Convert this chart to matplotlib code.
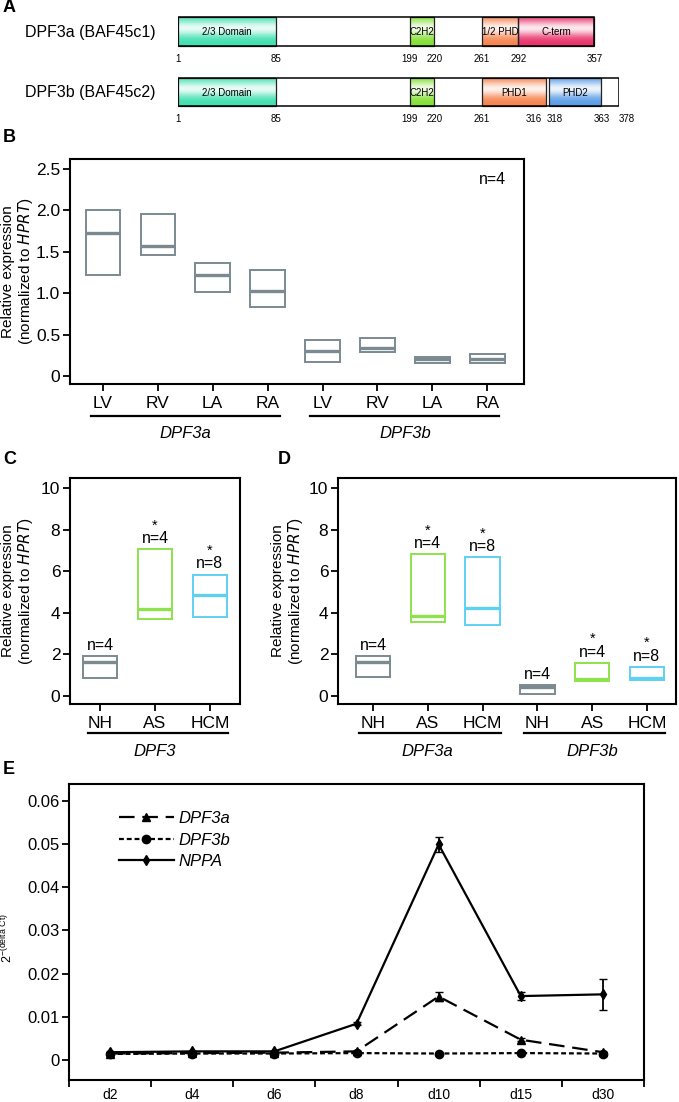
import numpy as np
import matplotlib
matplotlib.use("Agg")
import matplotlib.pyplot as plt
from matplotlib.patches import Rectangle
from matplotlib.colors import to_rgb
from matplotlib.transforms import blended_transform_factory

plt.rcParams['font.family'] = ['Liberation Sans', 'DejaVu Sans']

# ---------------- data ----------------
# A: domain maps (amino acid positions)
DPF3A_NAME = "DPF3a (BAF45c1)"
DPF3A_LEN = 357
DPF3A_DOM = [("2/3 Domain", 1, 85, "#3fe0b0"), ("C2H2", 199, 220, "#84e034"),
             ("1/2 PHD", 261, 292, "#f5844f"), ("C-term", 292, 357, "#e8326a")]
DPF3A_NUM = [1, 85, 199, 220, 261, 292, 357]
DPF3B_NAME = "DPF3b (BAF45c2)"
DPF3B_LEN = 378
DPF3B_DOM = [("2/3 Domain", 1, 85, "#3fe0b0"), ("C2H2", 199, 220, "#84e034"),
             ("PHD1", 261, 316, "#f5844f"), ("PHD2", 318, 363, "#5a9de6")]
DPF3B_NUM = [1, 85, 199, 220, 261, 316, 318, 363, 378]

# B: tissue expression (min, median, max)
B_LABELS = ["LV", "RV", "LA", "RA", "LV", "RV", "LA", "RA"]
B_LO  = [1.22, 1.46, 1.01, 0.83, 0.17, 0.29, 0.16, 0.16]
B_MED = [1.73, 1.57, 1.22, 1.02, 0.30, 0.34, 0.20, 0.21]
B_HI  = [2.00, 1.96, 1.37, 1.28, 0.43, 0.46, 0.23, 0.27]
B_GROUPS = [("DPF3a", 1, 4), ("DPF3b", 5, 8)]

# C: DPF3 in NH / AS / HCM
C_LABELS = ["NH", "AS", "HCM"]
C_LO  = [0.86, 3.71, 3.79]
C_MED = [1.62, 4.17, 4.87]
C_HI  = [1.94, 7.06, 5.84]
C_N = ["n=4", "n=4", "n=8"]
C_STAR = [False, True, True]
C_GROUPS = [("DPF3", 1, 3)]

# D: DPF3a / DPF3b in NH / AS / HCM
D_LABELS = ["NH", "AS", "HCM", "NH", "AS", "HCM"]
D_LO  = [0.90, 3.58, 3.41, 0.10, 0.72, 0.77]
D_MED = [1.62, 3.85, 4.22, 0.42, 0.82, 0.86]
D_HI  = [1.91, 6.82, 6.67, 0.52, 1.59, 1.40]
D_N = ["n=4", "n=4", "n=8", "n=4", "n=4", "n=8"]
D_STAR = [False, True, True, False, True, True]
D_GROUPS = [("DPF3a", 1, 3), ("DPF3b", 4, 6)]

# E: time course
E_DAYS = ["d2", "d4", "d6", "d8", "d10", "d15", "d30"]
E_DPF3A = [0.0015, 0.0016, 0.0017, 0.0020, 0.0147, 0.0047, 0.0018]
E_DPF3A_ERR = [0, 0, 0, 0, 0.0011, 0.0003, 0]
E_DPF3B = [0.0014, 0.0015, 0.0015, 0.0016, 0.0015, 0.0016, 0.0015]
E_NPPA = [0.0018, 0.0020, 0.0020, 0.0084, 0.0499, 0.0148, 0.0152]
E_NPPA_ERR = [0, 0, 0, 0.0004, 0.0017, 0.0009, 0.0036]

GREY, GREEN, CYAN = "#7a8a90", "#8ee24c", "#5ed0f2"
C_COLORS = [GREY, GREEN, CYAN]
D_COLORS = [GREY, GREEN, CYAN, GREY, GREEN, CYAN]

W, H = 679, 1102
fig = plt.figure(figsize=(W / 100, H / 100), dpi=100)


def px_axes(l, t, r, b):
    return fig.add_axes([l / W, 1 - b / H, (r - l) / W, (b - t) / H])


def gradient(col):
    c = np.array(to_rgb(col))
    t = np.linspace(0, 1, 60)
    w = 0.88 * np.exp(-((t - 0.38) / 0.28) ** 2)
    return (c[None, :] + (1 - c[None, :]) * w[:, None])[:, None, :]


# label placement tweaks for crowded numbers (x offset in aa, alignment)
NUM_POS = {316: (-4, "right"), 318: (-2, "left"), 378: (7, "center")}


def protein(ax, y0, y1, length, doms, nums, ny):
    ax.add_patch(Rectangle((1, y0), length - 1, y1 - y0, fc="white", ec="none", zorder=1))
    for name, s, e, col in doms:
        ax.imshow(gradient(col), extent=(s, e, y1, y0), aspect="auto", zorder=2,
                  interpolation="bilinear")
        ax.add_patch(Rectangle((s, y0), e - s, y1 - y0, fc="none", ec="#222222", lw=0.9, zorder=3))
        ax.text((s + e) / 2, (y0 + y1) / 2 + 0.5, name, ha="center", va="center",
                fontsize=7, zorder=4)
    ax.add_patch(Rectangle((1, y0), length - 1, y1 - y0, fc="none", ec="black", lw=1.1, zorder=5))
    for n in nums:
        dx, ha = NUM_POS.get(n, (0, "center"))
        ax.text(n + dx, ny, str(n), ha=ha, va="center", fontsize=7)


# ---------------- A ----------------
axA = px_axes(178, 0, 619, 130)
protein(axA, 17, 46, DPF3A_LEN, DPF3A_DOM, DPF3A_NUM, 59)
protein(axA, 78, 106, DPF3B_LEN, DPF3B_DOM, DPF3B_NUM, 119)
axA.set_xlim(1, 378); axA.set_ylim(130, 0); axA.axis("off")
fig.text(25 / W, 1 - 32 / H, DPF3A_NAME, fontsize=11.5, va="center")
fig.text(25 / W, 1 - 92 / H, DPF3B_NAME, fontsize=11.5, va="center")

YLAB = "Relative expression\n(normalized to $\\mathit{HPRT}$)"


def style(ax):
    for s in ax.spines.values():
        s.set_linewidth(1.5)
    ax.tick_params(direction="out", length=5, width=1.3, labelsize=12.5, top=False, right=False)
    ax.tick_params(axis="y", pad=2)


def boxes(ax, x, lo, med, hi, colors, width=0.63):
    lo, med, hi = map(np.asarray, (lo, med, hi))
    ax.bar(x, hi - lo, bottom=lo, width=width, fill=False, edgecolor=colors, linewidth=1.4)
    ax.hlines(med, x - width / 2, x + width / 2, colors=colors, linewidth=2.4)


def groups(ax, grps, yline, ytext, l=0.22, r=0.22):
    tr = blended_transform_factory(ax.transData, ax.transAxes)
    for name, a, b in grps:
        ax.plot([a - l, b + r], [yline, yline], color="black", lw=1.6, transform=tr, clip_on=False)
        ax.text((a + b) / 2, ytext, name, style="italic", fontsize=12, ha="center", va="center",
                transform=tr)


def nlabels(ax, x, hi, ns, stars):
    for xi, h, n, st in zip(x, hi, ns, stars):
        ax.text(xi, h + 0.15, n, ha="center", va="bottom", fontsize=11.5)
        if st:
            ax.text(xi, h + 0.95, "*", ha="center", va="baseline", fontsize=10.5)


def ylab(ax, xpix, left, width):
    # xpix = right edge (second line) of the rotated label, in figure pixels
    ax.set_ylabel(YLAB, fontsize=11, linespacing=1.1)
    ax.yaxis.set_label_coords((xpix - left) / width, 0.5)


# ---------------- B ----------------
axB = px_axes(70, 159, 524, 384)
xb = np.arange(1, len(B_LABELS) + 1)
boxes(axB, xb, B_LO, B_MED, B_HI, GREY)
axB.set_xlim(0.4, 8.67); axB.set_ylim(-0.097, 2.62)
axB.set_xticks(xb); axB.set_xticklabels(B_LABELS)
axB.set_yticks([0, 0.5, 1.0, 1.5, 2.0, 2.5]); axB.set_yticklabels(["0", "0.5", "1.0", "1.5", "2.0", "2.5"])
ylab(axB, 35, 70, 454)
axB.text(8.1, 2.37, "n=4", ha="center", va="center", fontsize=11.5)
style(axB)
groups(axB, B_GROUPS, -0.142, -0.222)

# ---------------- C ----------------
axC = px_axes(70, 478, 240, 704)
xc = np.arange(1, len(C_LABELS) + 1)
boxes(axC, xc, C_LO, C_MED, C_HI, C_COLORS)
nlabels(axC, xc, C_HI, C_N, C_STAR)
axC.set_xlim(0.45, 3.55); axC.set_ylim(-0.38, 10.48)
axC.set_xticks(xc); axC.set_xticklabels(C_LABELS)
axC.set_yticks([0, 2, 4, 6, 8, 10])
ylab(axC, 35, 70, 170)
style(axC)
groups(axC, C_GROUPS, -0.128, -0.212, 0.23, 0.33)

# ---------------- D ----------------
axD = px_axes(338, 478, 676, 704)
xd = np.arange(1, len(D_LABELS) + 1)
boxes(axD, xd, D_LO, D_MED, D_HI, D_COLORS)
nlabels(axD, xd, D_HI, D_N, D_STAR)
axD.set_xlim(0.36, 6.53); axD.set_ylim(-0.38, 10.48)
axD.set_xticks(xd); axD.set_xticklabels(D_LABELS)
axD.set_yticks([0, 2, 4, 6, 8, 10])
ylab(axD, 305, 338, 338)
style(axD)
groups(axD, D_GROUPS, -0.128, -0.212, 0.25, 0.33)

# ---------------- E ----------------
axE = px_axes(69, 784, 644, 1080)
xe = np.arange(len(E_DAYS)) + 0.5
axE.plot(xe, E_DPF3A, color="black", lw=1.6, ls=(0, (7, 3.5)), marker="^", ms=6, label="DPF3a")
axE.plot(xe, E_DPF3B, color="black", lw=1.6, ls=(0, (2.2, 1.3)), marker="o", ms=6, label="DPF3b")
axE.plot(xe, E_NPPA, color="black", lw=1.6, ls="-", marker="d", ms=5, label="NPPA")
axE.errorbar(xe, E_DPF3A, yerr=E_DPF3A_ERR, fmt="none", ecolor="black", capsize=3, elinewidth=1.3)
axE.errorbar(xe, E_NPPA, yerr=E_NPPA_ERR, fmt="none", ecolor="black", capsize=3, elinewidth=1.3)
axE.set_xlim(0, 7); axE.set_ylim(-0.00463, 0.0639)
axE.set_xticks(np.arange(0, 8)); axE.set_xticklabels([])
axE.set_xticks(xe, minor=True); axE.set_xticklabels(E_DAYS, minor=True)
axE.set_yticks([0, 0.01, 0.02, 0.03, 0.04, 0.05, 0.06])
axE.set_yticklabels(["0", "0.01", "0.02", "0.03", "0.04", "0.05", "0.06"])
style(axE)
axE.tick_params(labelsize=12)
axE.tick_params(axis="x", which="minor", length=0, pad=6)
axE.set_ylabel("2$^{\\mathregular{-(delta\\ Ct)}}$", fontsize=9)
axE.yaxis.set_label_coords((15 - 69) / 575, 0.48)
axE.legend(loc="upper left", bbox_to_anchor=(0.06, 0.96), frameon=False,
           prop={"style": "italic", "size": 12}, handlelength=3.3, labelspacing=0.4,
           handletextpad=0.3)

# panel letters
for lab, xp, yp in [("A", 3, 8), ("B", 3, 138), ("C", 3, 459), ("D", 278, 459), ("E", 3, 769)]:
    fig.text(xp / W, 1 - yp / H, lab, fontsize=13, fontweight="bold", va="center", ha="left")

fig.savefig("out.png", dpi=100)
